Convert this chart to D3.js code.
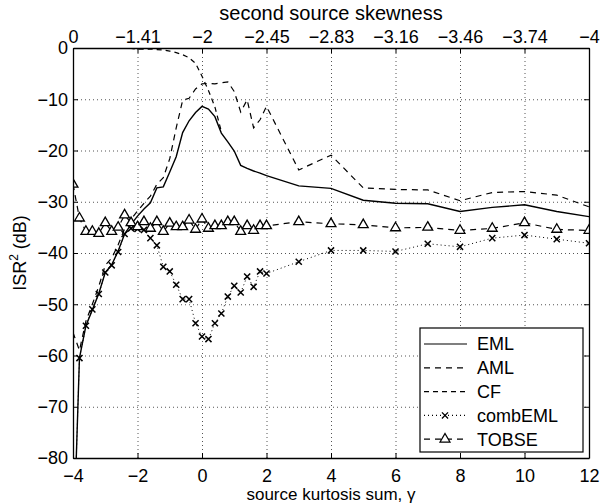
<!DOCTYPE html>
<html>
<head>
<meta charset="utf-8">
<script src="https://cdn.jsdelivr.net/npm/d3@7"></script>
<style>
  body { margin: 0; background: #fff; }
  svg { font-family: "Liberation Sans", Arial, Helvetica, sans-serif; }
</style>
</head>
<body>
<script>
// source kurtosis sum (x values shared by EML, AML, combEML and TOBSE)
var gamma = [-4,-3.8,-3.6,-3.4,-3.2,-3,-2.8,-2.6,-2.4,-2.2,-2,-1.8,-1.6,-1.4,-1.2,-1,-0.8,-0.6,-0.4,-0.2,
             0,0.2,0.4,0.6,0.8,1,1.2,1.4,1.6,1.8,2,3,4,5,6,7,8,9,10,11,12];

var eml = [-100,-60.5,-54.2,-51.1,-47.9,-43.8,-42.3,-39.6,-36.3,-34.4,-32.8,-31.4,-30.2,-27.3,-27.1,-24.2,-21.2,-16.5,-14.2,-12.6,
           -11.4,-11.9,-13.4,-16.6,-18.3,-20.1,-22.9,-23.5,-24,-24.4,-24.9,-26.9,-27.4,-29.7,-30.3,-30.4,-31.9,-31.1,-30.6,-31.9,-32.9];

var aml = [-55.5,-59,-53.3,-50,-46.5,-42.4,-41,-38.4,-35.3,-33.4,-31.8,-30.3,-28.9,-26.6,-25.3,-21.6,-15.6,-10.2,-9.8,-8,
           -7,-6.9,-7,-6.8,-6.6,-8.5,-12.5,-10.1,-15.6,-14,-11.4,-23.8,-20.9,-27.3,-27.6,-27.7,-29.8,-28.2,-28,-28.7,-31];

var combEml = [-100,-60.5,-54.2,-51,-48,-43.8,-42.4,-39.8,-36.3,-35.2,-35.3,-35.5,-37.1,-38.5,-42.7,-43.6,-46.2,-49,-49,-53.7,
               -56.3,-56.8,-53.7,-51.8,-48.5,-46.4,-47.7,-44.6,-46.6,-43.6,-44,-41.7,-39.5,-39.5,-39.7,-38.2,-38.8,-37.1,-36.5,-37.3,-38.1];

var tobse = [-26.6,-33.2,-35.8,-35.8,-36.2,-34.1,-35.8,-35,-32.6,-34.1,-34.9,-33.9,-35.2,-33.9,-35.8,-34.2,-34.9,-34.9,-33.6,-35.4,
             -33.4,-35.2,-34.7,-34.7,-33.9,-33.9,-35.8,-34.7,-35.6,-34.7,-34.7,-33.9,-34.3,-34.5,-35.1,-35,-35.6,-35.2,-34.1,-35.4,-35.6];

// CF only visible from the top edge down to where it joins EML
var cfGamma = [-2.8,-2.6,-2.4,-2.2,-2,-1.8,-1.6,-1.4,-1.2,-1,-0.8,-0.6,-0.4,-0.2,0,0.2,0.4,0.6];
var cf = [-0.1,-0.1,-0.1,-0.1,-0.2,-0.2,-0.2,-0.3,-0.4,-0.6,-0.9,-1.3,-1.9,-3,-5.5,-8.3,-11.5,-16.3];

var xTicks = [-4,-2,0,2,4,6,8,10,12];
var topTickLabels = ["0","\u22121.41","\u22122","\u22122.45","\u22122.83","\u22123.16","\u22123.46","\u22123.74","\u22124"];
var yTicks = [-80,-70,-60,-50,-40,-30,-20,-10,0];
var legendNames = ["EML","AML","CF","combEML","TOBSE"];

function init() {
    var W = 600, H = 504;
    var margin = {top: 48, right: 11, bottom: 46, left: 73};
    var w = W - margin.left - margin.right;
    var h = H - margin.top - margin.bottom;

    var x = d3.scaleLinear().domain([-4, 12]).range([0, w]);
    var y = d3.scaleLinear().domain([-80, 0]).range([h, 0]);

    var svg = d3.select("body").append("svg")
        .attr("width", W).attr("height", H);

    svg.append("defs").append("clipPath").attr("id", "clip")
        .append("rect").attr("width", w).attr("height", h);

    var g = svg.append("g")
        .attr("transform", "translate(" + margin.left + "," + margin.top + ")");

    // dotted grid
    g.append("g").attr("class", "grid")
        .attr("transform", "translate(0," + h + ")")
        .call(d3.axisBottom(x).tickValues(xTicks).tickSize(-h).tickFormat(""));
    g.append("g").attr("class", "grid")
        .call(d3.axisLeft(y).tickValues(yTicks).tickSize(-w).tickFormat(""));
    g.selectAll(".grid .domain").remove();
    g.selectAll(".grid line")
        .attr("stroke", "#000").attr("stroke-width", 0.9)
        .attr("stroke-dasharray", "1,3").attr("opacity", 0.75);

    var plot = g.append("g").attr("clip-path", "url(#clip)");

    function series(xs, ys) {
        return xs.map(function (d, i) { return [d, ys[i]]; });
    }
    var line = d3.line()
        .x(function (d) { return x(d[0]); })
        .y(function (d) { return y(d[1]); });

    // CF first, it lies under EML where they meet
    plot.append("path").datum(series(cfGamma, cf))
        .attr("d", line).attr("fill", "none").attr("stroke", "#000")
        .attr("stroke-width", 1.2).attr("stroke-dasharray", "5,4");

    plot.append("path").datum(series(gamma, aml))
        .attr("d", line).attr("fill", "none").attr("stroke", "#000")
        .attr("stroke-width", 1.2).attr("stroke-dasharray", "6,5");

    plot.append("path").datum(series(gamma, combEml))
        .attr("d", line).attr("fill", "none").attr("stroke", "#000")
        .attr("stroke-width", 1).attr("stroke-dasharray", "1,3");

    plot.append("path").datum(series(gamma, tobse))
        .attr("d", line).attr("fill", "none").attr("stroke", "#000")
        .attr("stroke-width", 1.2).attr("stroke-dasharray", "6,5");

    plot.append("path").datum(series(gamma, eml))
        .attr("d", line).attr("fill", "none").attr("stroke", "#000")
        .attr("stroke-width", 1.4);

    var cross = d3.symbol().type(d3.symbolX).size(26);
    var tri = d3.symbol().type(d3.symbolTriangle).size(42);

    plot.selectAll(".cm").data(series(gamma, combEml)).enter()
        .append("path").attr("class", "cm")
        .attr("d", cross)
        .attr("transform", function (d) { return "translate(" + x(d[0]) + "," + y(d[1]) + ")"; })
        .attr("fill", "none").attr("stroke", "#000").attr("stroke-width", 1.5);

    plot.selectAll(".tm").data(series(gamma, tobse)).enter()
        .append("path").attr("class", "tm")
        .attr("d", tri)
        .attr("transform", function (d) { return "translate(" + x(d[0]) + "," + y(d[1]) + ")"; })
        .attr("fill", "#fff").attr("stroke", "#000").attr("stroke-width", 1.3);

    // axes, ticks pointing in
    var fs = "17px";
    var bottom = g.append("g").attr("transform", "translate(0," + h + ")")
        .call(d3.axisBottom(x).tickValues(xTicks).tickSizeInner(-5).tickSizeOuter(0).tickPadding(11));
    var top = g.append("g")
        .call(d3.axisTop(x).tickValues(xTicks).tickSizeInner(-5).tickSizeOuter(0).tickPadding(5)
            .tickFormat(function (d, i) { return topTickLabels[i]; }));
    var left = g.append("g")
        .call(d3.axisLeft(y).tickValues(yTicks).tickSizeInner(-5).tickSizeOuter(0).tickPadding(5));
    var right = g.append("g").attr("transform", "translate(" + w + ",0)")
        .call(d3.axisRight(y).tickValues(yTicks).tickSizeInner(-5).tickSizeOuter(0).tickFormat(""));

    [bottom, top, left, right].forEach(function (a) {
        a.selectAll("text").attr("font-size", "18px").attr("font-family", null).attr("fill", "#000");
        a.selectAll("line").attr("stroke", "#000");
        a.select(".domain").attr("stroke", "#000").attr("stroke-width", 1.3);
    });

    // axis titles
    svg.append("text")
        .attr("x", margin.left + w / 2).attr("y", 20)
        .attr("text-anchor", "middle").attr("font-size", "20px")
        .text("second source skewness");

    svg.append("text")
        .attr("x", margin.left + w / 2).attr("y", 500)
        .attr("text-anchor", "middle").attr("font-size", fs)
        .text("source kurtosis sum, \u03b3");

    var yl = svg.append("text")
        .attr("transform", "translate(26," + (margin.top + h / 2) + ") rotate(-90)")
        .attr("text-anchor", "middle").attr("font-size", "18px");
    yl.append("tspan").text("ISR");
    yl.append("tspan").attr("font-size", "12px").attr("dy", "-8").text("2");
    yl.append("tspan").attr("dy", "8").text(" (dB)");

    // legend
    var lg = svg.append("g").attr("transform", "translate(420,328)");
    lg.append("rect").attr("width", 163).attr("height", 124)
        .attr("fill", "#fff").attr("stroke", "#000").attr("stroke-width", 1.2);

    var styles = [
        {dash: null, mark: null},
        {dash: "6,5", mark: null},
        {dash: "5,4", mark: null},
        {dash: "1,3", mark: cross},
        {dash: "6,5", mark: tri}
    ];
    var rows = lg.selectAll(".row").data(legendNames).enter()
        .append("g").attr("class", "row")
        .attr("transform", function (d, i) { return "translate(0," + (16 + i * 23.8) + ")"; });
    rows.append("line")
        .attr("x1", 4).attr("x2", 47).attr("y1", 0).attr("y2", 0)
        .attr("stroke", "#000").attr("stroke-width", 1.2)
        .attr("stroke-dasharray", function (d, i) { return styles[i].dash; });
    rows.filter(function (d, i) { return styles[i].mark; })
        .append("path")
        .attr("transform", "translate(25,0)")
        .attr("d", function (d) { return styles[legendNames.indexOf(d)].mark(); })
        .attr("fill", function (d) { return d === "TOBSE" ? "#fff" : "none"; })
        .attr("stroke", "#000").attr("stroke-width", 1.3);
    rows.append("text")
        .attr("x", 57).attr("dy", "0.35em").attr("font-size", "18px")
        .text(function (d) { return d; });
}
window.onload = init;
</script>
</body>
</html>
